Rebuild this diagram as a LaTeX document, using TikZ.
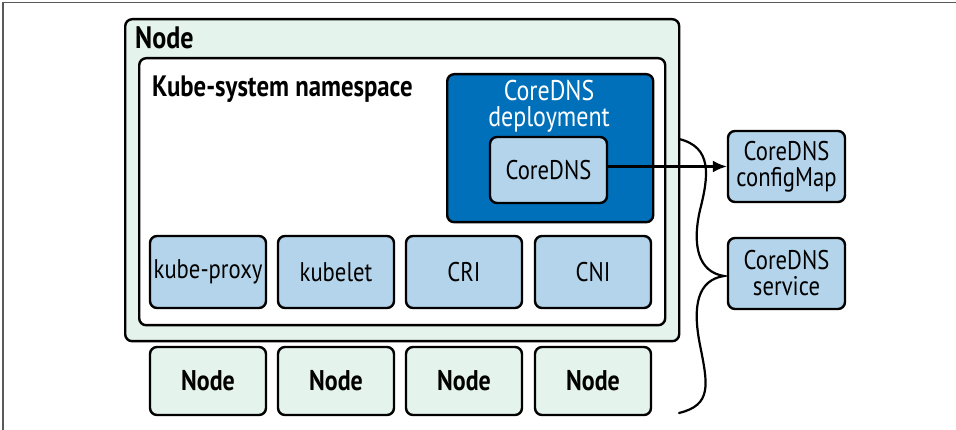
\documentclass[tikz,border=0pt]{standalone}
\usepackage{fontspec}
\setmainfont{PT Sans}[FakeStretch=0.84]
\usetikzlibrary{positioning}
\usetikzlibrary{arrows.meta}
\usepackage{xcolor}

\definecolor{mint}{HTML}{E4F3EC}
\definecolor{deepblue}{HTML}{0070BA}
\definecolor{paleblue}{HTML}{B3D4EA}

\tikzset{
  box/.style={draw, line width=2.4pt, rounded corners=7pt, inner sep=0pt, align=center},
  comp/.style={box, fill=paleblue, minimum width=116pt, minimum height=72pt,
    font=\fontsize{27}{26}\selectfont},
  peer/.style={box, fill=mint, minimum width=116pt, minimum height=68pt,
    font=\fontsize{28.5}{28}\selectfont\bfseries},
  heading/.style={anchor=base west, inner sep=0pt, font=\fontsize{31}{31}\selectfont\bfseries}
}

\begin{document}
\begin{tikzpicture}[x=1pt, y=-1pt]
    \useasboundingbox (0,0) rectangle (956,430);
    % Frame
    \draw[gray!70!black, line width=1.5pt] (3,430) -- (3,2.5) -- (956,2.5);

    % Host node and namespace
    \node[box, fill=mint, minimum width=554, minimum height=322, anchor=north west] (host) at (124,18) {};
    \node[heading] (hosttitle) at (135,49) {Node};
    \node[box, fill=white, minimum width=526, minimum height=267, anchor=north west] (ns) at (138,57) {};
    \node[heading, font=\fontsize{29.5}{29}\selectfont\bfseries] (nstitle) at (152,97) {Kube-system namespace};

    % CoreDNS deployment
    \node[box, fill=deepblue, minimum width=206, minimum height=148, anchor=north west] (deploy) at (446,73) {};
    \node[align=center, text=white, inner sep=0pt, anchor=north, font=\fontsize{28.5}{26.5}\selectfont] (deploytitle) at (549,80) {CoreDNS\\deployment};
    \node[comp, minimum width=117, minimum height=66] (core) at (548.5,170) {CoreDNS};

    % System components
    \node[comp] (proxy) at (208,272) {kube-proxy};
    \node[comp] (kubelet) at (336,272) {kubelet};
    \node[comp] (cri) at (464,272) {CRI};
    \node[comp] (cni) at (593,272) {CNI};

    % Other nodes
    \node[peer] (peer1) at (208,381) {Node};
    \node[peer] (peer2) at (336,381) {Node};
    \node[peer] (peer3) at (464,381) {Node};
    \node[peer] (peer4) at (593,381) {Node};

    % Cluster objects
    \node[comp, minimum width=117, minimum height=71] (cmap) at (786.5,166.5) {CoreDNS\\configMap};
    \node[comp, minimum width=117, minimum height=71] (svc) at (786.5,273.5) {CoreDNS\\service};

    % Brace
    \coordinate (bracetop) at (679,139);
    \coordinate (bracetip) at (724,276);
    \coordinate (bracebot) at (679,413);
    \draw[line width=2.2pt, line cap=round]
      (bracetop) .. controls (712,147) and (709,175) .. (700,210)
      .. controls (692,245) and (698,272) .. (bracetip)
      .. controls (698,280) and (692,305) .. (700,345)
      .. controls (708,385) and (712,405) .. (bracebot);

    % Arrow
    \draw[line width=2.2pt, -{Latex[length=14pt, width=12pt]}] (core.east |- cmap.west) -- (cmap.west);
\end{tikzpicture}
\end{document}
